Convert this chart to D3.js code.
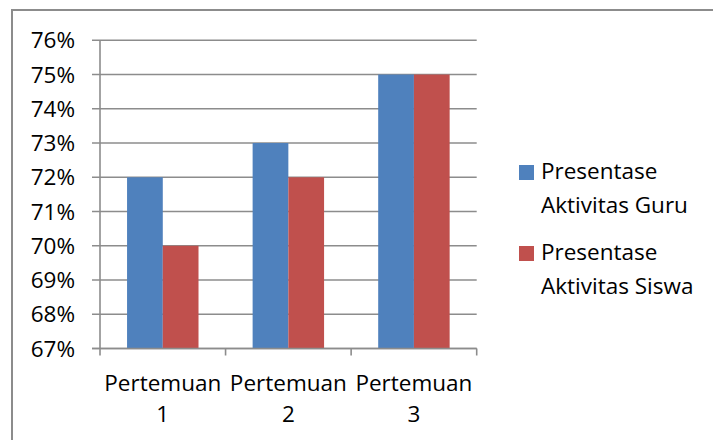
<!DOCTYPE html>
<html>
<head>
<meta charset="utf-8">
<script src="https://cdn.jsdelivr.net/npm/d3@7"></script>
<style>
  html, body { margin: 0; padding: 0; background: #fff; }
  svg { display: block; }
  text { font-family: "Open Sans", sans-serif; fill: #000; }
</style>
</head>
<body>
<svg id="chart" width="713" height="440"></svg>
<script>
// Meeting labels (two lines each) and percentage values per series
const categories = ["Pertemuan 1", "Pertemuan 2", "Pertemuan 3"];
const categoryLines = [["Pertemuan", "1"], ["Pertemuan", "2"], ["Pertemuan", "3"]];
const seriesNames = ["Presentase Aktivitas Guru", "Presentase Aktivitas Siswa"];
const legendLines = [["Presentase", "Aktivitas Guru"], ["Presentase", "Aktivitas Siswa"]];
const guruValues = [0.72, 0.73, 0.75];
const siswaValues = [0.70, 0.72, 0.75];
const yTicks = [0.67, 0.68, 0.69, 0.70, 0.71, 0.72, 0.73, 0.74, 0.75, 0.76];
const colors = ["#4F81BD", "#C0504D"];

const series = [guruValues, siswaValues];
const svg = d3.select("#chart");
const fontSize = "22.5px";

// Outer chart frame
svg.append("rect")
  .attr("x", 12).attr("y", 10)
  .attr("width", 740).attr("height", 460)
  .attr("fill", "none").attr("stroke", "#8c8c8c").attr("stroke-width", 2);

const plot = { left: 100, right: 476.7, top: 40.3, bottom: 348.5 };

// One slot per meeting; the pair of bars fills ~57% of each slot, centred
const x = d3.scaleBand().domain(categories).range([plot.left, plot.right]).padding(0);
const barW = x.bandwidth() * 0.2845;
const xc = d => x(d) + x.bandwidth() / 2;

const y = d3.scaleLinear().domain([0.67, 0.76]).range([plot.bottom, plot.top]);

// Horizontal gridlines
svg.append("g").selectAll("line").data(yTicks).join("line")
  .attr("x1", plot.left - 8).attr("x2", plot.right)
  .attr("y1", d => y(d)).attr("y2", d => y(d))
  .attr("stroke", "#8c8c8c").attr("stroke-width", 1.6);

// Y tick labels
const fmt = d3.format(".0%");
svg.append("g").selectAll("text").data(yTicks).join("text")
  .attr("x", 75).attr("y", d => y(d))
  .attr("dy", "0.36em")
  .attr("text-anchor", "end")
  .style("font-size", fontSize)
  .text(d => fmt(d));

// Bars
categories.forEach((c, i) => {
  series.forEach((vals, s) => {
    const bx = xc(c) - barW + s * barW;
    svg.append("rect")
      .attr("x", bx).attr("width", barW)
      .attr("y", y(vals[i])).attr("height", plot.bottom - y(vals[i]))
      .attr("fill", colors[s]);
  });
});

// Y axis line
svg.append("line")
  .attr("x1", plot.left).attr("x2", plot.left)
  .attr("y1", plot.top).attr("y2", plot.bottom)
  .attr("stroke", "#8c8c8c").attr("stroke-width", 1.6);

// X axis line and category boundary ticks
svg.append("line")
  .attr("x1", plot.left - 8).attr("x2", plot.right)
  .attr("y1", plot.bottom).attr("y2", plot.bottom)
  .attr("stroke", "#8c8c8c").attr("stroke-width", 1.6);
const boundaries = categories.map(c => x(c)).concat([plot.right]);
svg.append("g").selectAll("line").data(boundaries).join("line")
  .attr("x1", d => d).attr("x2", d => d)
  .attr("y1", plot.bottom).attr("y2", plot.bottom + 7)
  .attr("stroke", "#8c8c8c").attr("stroke-width", 1.6);

// Category labels
categories.forEach((c, i) => {
  const t = svg.append("text")
    .attr("text-anchor", "middle")
    .style("font-size", fontSize);
  categoryLines[i].forEach((line, k) => {
    t.append("tspan").attr("x", xc(c)).attr("y", 391 + k * 31).text(line);
  });
});

// Legend
seriesNames.forEach((name, s) => {
  const top = 165 + s * 81;
  svg.append("rect")
    .attr("x", 519).attr("y", top).attr("width", 15).attr("height", 15)
    .attr("fill", colors[s]);
  const t = svg.append("text").style("font-size", fontSize);
  legendLines[s].forEach((line, k) => {
    t.append("tspan").attr("x", 541).attr("y", top + 14 + k * 33.5).text(line);
  });
});
</script>
</body>
</html>
